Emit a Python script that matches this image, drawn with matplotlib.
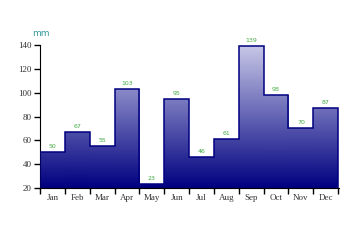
import numpy as np
import matplotlib.pyplot as plt
from matplotlib.colors import LinearSegmentedColormap
from matplotlib.patches import Rectangle

# dados mensais (mm)
months = ['Jan', 'Feb', 'Mar', 'Apr', 'May', 'Jun', 'Jul', 'Aug', 'Sep', 'Oct', 'Nov', 'Dec']
values = [50, 67, 55, 103, 23, 95, 46, 61, 139, 98, 70, 87]
yticks = [20, 40, 60, 80, 100, 120, 140]

ymin, ymax = 20, 140

fig = plt.figure(figsize=(3.6, 2.4), dpi=100)
ax = fig.add_axes([40 / 360, 52 / 240, 0.8317, 143 / 240])

# gradiente vertical comum a todas as barras
cmap = LinearSegmentedColormap.from_list('navy', ['#000080', '#c8c8e8'])
grad = np.linspace(0, 1, 256).reshape(-1, 1)

for i, v in enumerate(values):
    rect = Rectangle((i, ymin), 1, v - ymin, transform=ax.transData)
    img = ax.imshow(grad, cmap=cmap, origin='lower', aspect='auto',
                    extent=[0, len(values), ymin, ymax], zorder=2)
    img.set_clip_path(rect)
    ax.text(i + 0.5, v + 2.5, str(v), ha='center', va='bottom', fontsize=4.5,
            color='#44aa44', clip_on=False)

# contorno em degraus
ax.stairs(values, np.arange(len(values) + 1), baseline=ymin, color='#000080', lw=1.1, zorder=3)

ax.set_xlim(0, 12.05)
ax.set_ylim(ymin, ymax)

ax.spines['top'].set_visible(False)
ax.spines['right'].set_visible(False)

ax.set_xticks(np.arange(0, 13))
ax.set_xticklabels([])
ax.set_xticks(np.arange(len(months)) + 0.5, minor=True)
ax.set_xticklabels(months, minor=True, fontsize=6.5, family='Liberation Serif', color='#333333')
ax.tick_params(axis='x', which='minor', length=0, pad=4)
ax.tick_params(axis='x', which='major', length=4, width=1, direction='out')

ax.set_yticks(yticks)
ax.set_yticklabels([str(t) for t in yticks], fontsize=6.5, family='Liberation Serif', color='#333333')
ax.tick_params(axis='y', length=4, width=1, direction='out', pad=2)

fig.text(32 / 360, 1 - 33 / 240, 'mm', ha='left', va='center', fontsize=6.5, color='#339999')

plt.savefig('out.png', dpi=100)
